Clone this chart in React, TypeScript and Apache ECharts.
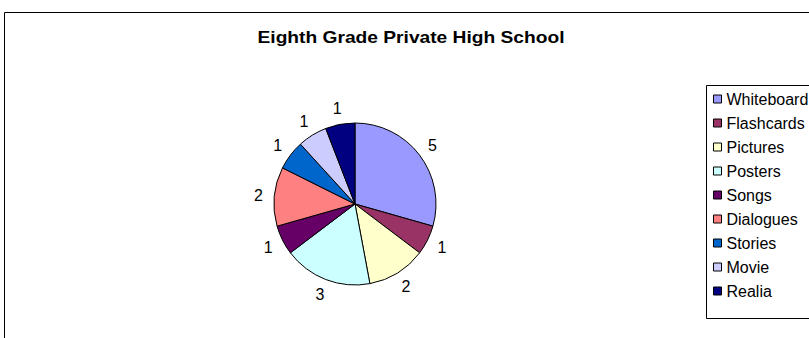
import React, { useEffect, useRef } from "react";
import * as echarts from "echarts";

const categories = ["Whiteboard", "Flashcards", "Pictures", "Posters", "Songs", "Dialogues", "Stories", "Movie", "Realia"];
const values = [5, 1, 2, 3, 1, 2, 1, 1, 1];
const colors = ["#9999FF", "#993366", "#FFFFCC", "#CCFFFF", "#660066", "#FF8080", "#0066CC", "#CCCCFF", "#000080"];
const titleText = "Eighth Grade Private High School";

const FONT = "Arial, 'Liberation Sans', sans-serif";

export default function App() {
  const ref = useRef<HTMLDivElement>(null);
  useEffect(() => {
    if (!ref.current) return;
    const chart = echarts.init(ref.current, null, { renderer: "svg" });
    const data = categories.map((name, i) => ({ name, value: values[i], itemStyle: { color: colors[i] } }));
    const labelData = categories.map((name, i) => ({ name, value: values[i] }));
    chart.setOption({
      animation: false,
      backgroundColor: "#fff",
      legend: {
        orient: "vertical",
        left: 713,
        top: 91,
        padding: 0,
        itemWidth: 8,
        itemHeight: 8,
        itemGap: 8,
        icon: "rect",
        data: categories,
        itemStyle: { borderColor: "#000", borderWidth: 1 },
        textStyle: { fontFamily: FONT, fontSize: 16, color: "#000", lineHeight: 16 },
        selectedMode: false,
      },
      graphic: [
        { type: "rect", shape: { x: 4.5, y: 12.5, width: 900, height: 400 }, style: { fill: "none", stroke: "#000", lineWidth: 1 }, silent: true },
        { type: "rect", shape: { x: 706.5, y: 85.5, width: 200, height: 233 }, style: { fill: "none", stroke: "#000", lineWidth: 1 }, silent: true },
        {
          type: "text",
          x: 411,
          y: 38,
          scaleX: 1.2,
          silent: true,
          style: {
            text: titleText,
            textAlign: "center",
            textVerticalAlign: "middle",
            fontFamily: FONT,
            fontSize: 16,
            fontWeight: "bold",
            fill: "#000",
          },
        },
      ],
      series: [
        {
          type: "pie",
          center: [355, 204],
          radius: 81,
          startAngle: 90,
          clockwise: true,
          silent: true,
          label: { show: false },
          labelLine: { show: false },
          itemStyle: { borderColor: "#000", borderWidth: 1 },
          data,
        },
        {
          type: "pie",
          center: [355, 204],
          radius: [85, 103],
          startAngle: 90,
          clockwise: true,
          silent: true,
          itemStyle: { color: "rgba(0,0,0,0)" },
          label: {
            show: true,
            position: "inside",
            formatter: "{c}",
            fontFamily: FONT,
            fontSize: 16,
            color: "#000",
          },
          labelLine: { show: false },
          data: labelData,
        },
      ],
    });
    return () => chart.dispose();
  }, []);
  return <div ref={ref} style={{ position: "absolute", left: 0, top: 0, width: 809, height: 338 }} />;
}
